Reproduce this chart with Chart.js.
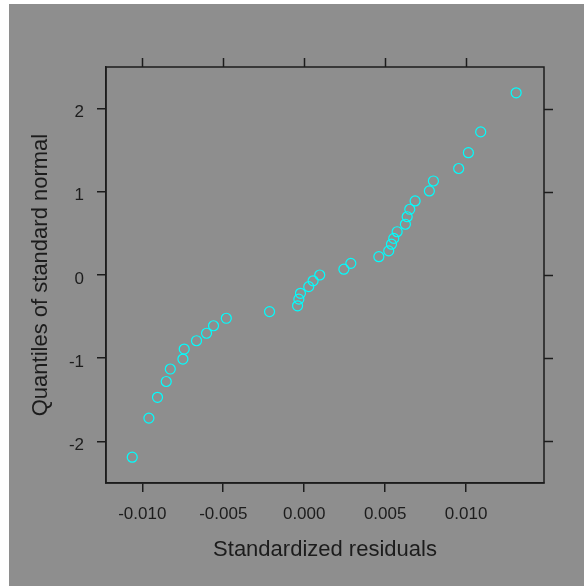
<!DOCTYPE html>
<html>
<head>
<meta charset="utf-8">
<script src="https://cdn.jsdelivr.net/npm/chart.js@4.4.1/dist/chart.umd.min.js"></script>
<style>
	body { margin: 0; background: #ffffff; }
	canvas { display: block; }
</style>
</head>
<body>
<canvas id="qqChart" width="584" height="586"></canvas>
<script>
// sorted standardized residuals
const residuals = [
	-0.01062, -0.00959, -0.00906, -0.00852, -0.00827, -0.00749, -0.00741, -0.00665, -0.00603,
	-0.0056, -0.00481, -0.00214, -0.00041, -0.00033, -0.00023, 0.00028, 0.00055, 0.00096,
	0.00245, 0.00288, 0.00461, 0.00522, 0.00539, 0.00553, 0.00574, 0.00625, 0.00636,
	0.00652, 0.00685, 0.00773, 0.00798, 0.00954, 0.01014, 0.0109, 0.01309,
];
// matching quantiles of the standard normal
const normalQuantiles = [
	-2.19, -1.72, -1.47, -1.28, -1.13, -1.01, -0.89, -0.79, -0.7,
	-0.61, -0.52, -0.44, -0.37, -0.29, -0.22, -0.14, -0.07, 0,
	0.07, 0.14, 0.22, 0.29, 0.37, 0.44, 0.52, 0.61, 0.7,
	0.79, 0.89, 1.01, 1.13, 1.28, 1.47, 1.72, 2.19,
];
const xTicks = [-0.01, -0.005, 0, 0.005, 0.01];
const yTicks = [-2, -1, 0, 1, 2];

const ink = "#1c1c1c";
const panel = "#8e8e8e";

const framePlugin = {
	id: "frame",
	beforeDraw(chart) {
		const { ctx, width, height } = chart;
		ctx.save();
		ctx.fillStyle = "#ffffff";
		ctx.fillRect(0, 0, width, height);
		ctx.fillStyle = panel;
		ctx.fillRect(9, 4, width - 9, height - 4);
		ctx.restore();
	},
	afterDraw(chart) {
		const { ctx, chartArea: a, scales } = chart;
		ctx.save();
		ctx.strokeStyle = ink;
		ctx.lineWidth = 1.5;
		ctx.strokeRect(a.left, a.top, a.right - a.left, a.bottom - a.top);
		ctx.beginPath();
		scales.x.ticks.forEach((t) => {
			const px = Math.round(scales.x.getPixelForValue(t.value)) + 0.5;
			ctx.moveTo(px, a.top);
			ctx.lineTo(px, a.top - 9);
		});
		scales.y.ticks.forEach((t) => {
			const py = Math.round(scales.y.getPixelForValue(t.value)) + 0.5;
			ctx.moveTo(a.right, py);
			ctx.lineTo(a.right + 9, py);
		});
		ctx.stroke();
		ctx.restore();
	},
};

const axisGrid = {
	drawOnChartArea: false,
	drawTicks: true,
	tickLength: 9,
	color: ink,
	lineWidth: 1.5,
};

const ctx = document.getElementById("qqChart");
new Chart(ctx, {
	type: "scatter",
	data: {
		datasets: [
			{
				data: residuals.map((r, i) => ({ x: r, y: normalQuantiles[i] })),
				pointStyle: "circle",
				pointRadius: 5,
				pointBorderWidth: 1.2,
				pointBorderColor: "#00ffff",
				pointBackgroundColor: "rgba(0,0,0,0)",
			},
		],
	},
	options: {
		responsive: false,
		animation: false,
		layout: { padding: { top: 67, right: 40, left: 0, bottom: 0 } },
		plugins: { legend: { display: false }, tooltip: { enabled: false } },
		scales: {
			x: {
				type: "linear",
				min: -0.01224,
				max: 0.01481,
				afterBuildTicks: (s) => { s.ticks = xTicks.map((v) => ({ value: v })); },
				afterFit: (s) => { s.height = 103; },
				grid: axisGrid,
				border: { display: true, color: ink, width: 1.5 },
				ticks: {
					color: ink,
					padding: 12,
					maxRotation: 0,
					font: { family: "Liberation Sans", size: 17 },
					callback: (v) => Number(v).toFixed(3),
				},
				title: {
					display: true,
					text: "Standardized residuals",
					color: ink,
					font: { family: "Liberation Sans", size: 22 },
					padding: { top: 0, bottom: 23 },
				},
			},
			y: {
				type: "linear",
				min: -2.5,
				max: 2.5,
				afterBuildTicks: (s) => { s.ticks = yTicks.map((v) => ({ value: v })); },
				afterFit: (s) => { s.width = 106; },
				grid: axisGrid,
				border: { display: true, color: ink, width: 1.5 },
				ticks: {
					color: ink,
					padding: 13,
					labelOffset: 4,
					font: { family: "Liberation Sans", size: 17 },
					callback: (v) => String(v),
				},
				title: {
					display: true,
					text: "Quantiles of standard normal",
					color: ink,
					font: { family: "Liberation Sans", size: 22 },
					padding: { top: 28, bottom: 0 },
				},
			},
		},
	},
	plugins: [framePlugin],
});
</script>
</body>
</html>
